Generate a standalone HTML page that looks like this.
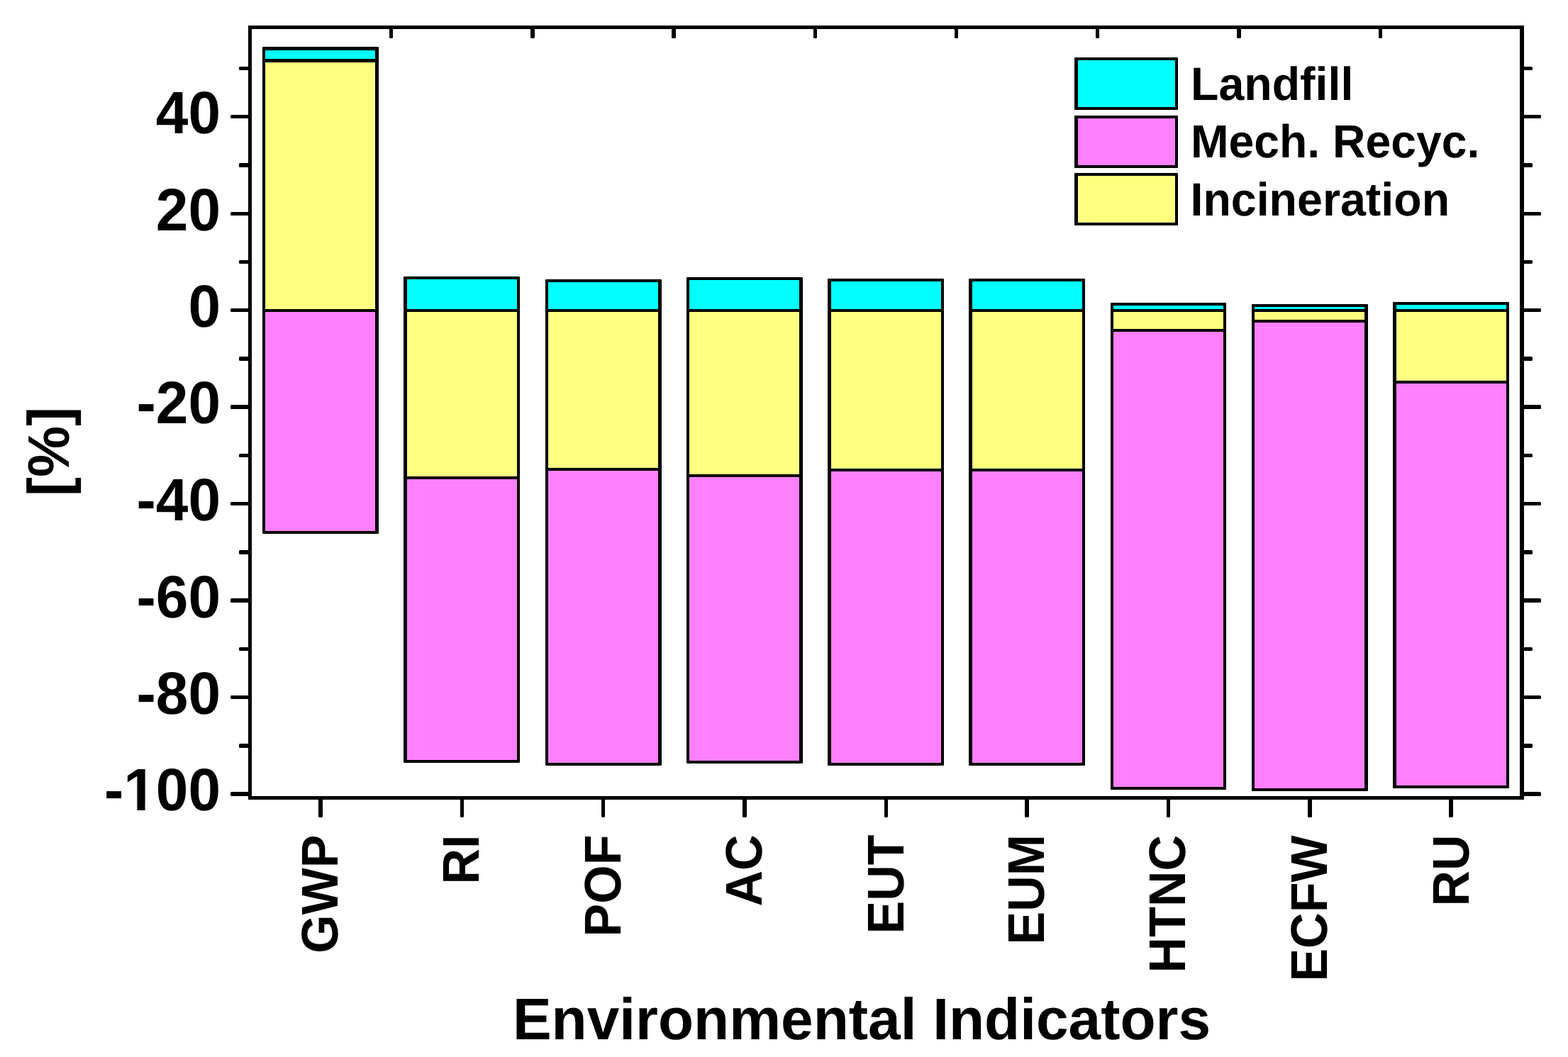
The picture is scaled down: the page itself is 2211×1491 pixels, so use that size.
<!DOCTYPE html>
<html lang="en">
<head>
<meta charset="utf-8">
<title>Environmental Indicators</title>
<style>
html,body{margin:0;padding:0;background:#fff;}
body{width:2211px;height:1491px;overflow:hidden;}
svg{display:block;}
text{text-rendering:geometricPrecision;}
</style>
</head>
<body>
<svg width="2211" height="1491" viewBox="0 0 2211 1491">
<rect x="0" y="0" width="2211" height="1491" fill="#ffffff"/>
<g id="bars">
<rect x="370" y="66" width="164" height="687" fill="#000" rx="1.2"/>
<rect x="374" y="71" width="155" height="12" fill="#00ffff"/>
<rect x="374" y="88" width="155" height="348" fill="#ffff80"/>
<rect x="374" y="440" width="155" height="309" fill="#ff80ff"/>
<rect x="569" y="390" width="164" height="686" fill="#000" rx="1.2"/>
<rect x="574" y="394" width="155" height="42" fill="#00ffff"/>
<rect x="574" y="440" width="155" height="232" fill="#ffff80"/>
<rect x="574" y="676" width="155" height="396" fill="#ff80ff"/>
<rect x="769" y="394" width="164" height="686" fill="#000" rx="1.2"/>
<rect x="773" y="398" width="155" height="38" fill="#00ffff"/>
<rect x="773" y="440" width="155" height="220" fill="#ffff80"/>
<rect x="773" y="664" width="155" height="412" fill="#ff80ff"/>
<rect x="968" y="391" width="164" height="686" fill="#000" rx="1.2"/>
<rect x="972" y="395" width="155" height="41" fill="#00ffff"/>
<rect x="972" y="440" width="155" height="229" fill="#ffff80"/>
<rect x="972" y="673" width="155" height="400" fill="#ff80ff"/>
<rect x="1167" y="393" width="164" height="687" fill="#000" rx="1.2"/>
<rect x="1172" y="397" width="155" height="39" fill="#00ffff"/>
<rect x="1172" y="440" width="155" height="221" fill="#ffff80"/>
<rect x="1172" y="665" width="155" height="411" fill="#ff80ff"/>
<rect x="1366" y="393" width="164" height="687" fill="#000" rx="1.2"/>
<rect x="1371" y="397" width="155" height="39" fill="#00ffff"/>
<rect x="1371" y="440" width="155" height="221" fill="#ffff80"/>
<rect x="1371" y="665" width="155" height="411" fill="#ff80ff"/>
<rect x="1566" y="427" width="163" height="687" fill="#000" rx="1.2"/>
<rect x="1570" y="431" width="155" height="5" fill="#00ffff"/>
<rect x="1570" y="440" width="155" height="24" fill="#ffff80"/>
<rect x="1570" y="468" width="155" height="642" fill="#ff80ff"/>
<rect x="1765" y="429" width="164" height="687" fill="#000" rx="1.2"/>
<rect x="1769" y="433" width="155" height="3" fill="#00ffff"/>
<rect x="1769" y="440" width="155" height="11" fill="#ffff80"/>
<rect x="1769" y="455" width="155" height="657" fill="#ff80ff"/>
<rect x="1964" y="426" width="164" height="686" fill="#000" rx="1.2"/>
<rect x="1969" y="430" width="155" height="6" fill="#00ffff"/>
<rect x="1969" y="440" width="155" height="97" fill="#ffff80"/>
<rect x="1969" y="541" width="155" height="567" fill="#ff80ff"/>
</g>
<g id="frame">
<rect x="350" y="36" width="5" height="1092" fill="#000"/>
<rect x="350" y="36" width="1799" height="5" fill="#000"/>
<rect x="2143" y="36" width="6" height="1092" fill="#000"/>
<rect x="350" y="1123" width="1799" height="5" fill="#000"/>
</g>
<g id="ticks">
<rect x="325" y="162" width="28" height="5" fill="#000" rx="1.6"/>
<rect x="2146" y="162" width="27" height="5" fill="#000" rx="1.6"/>
<rect x="325" y="299" width="28" height="5" fill="#000" rx="1.6"/>
<rect x="2146" y="299" width="27" height="5" fill="#000" rx="1.6"/>
<rect x="325" y="435" width="28" height="5" fill="#000" rx="1.6"/>
<rect x="2146" y="435" width="27" height="5" fill="#000" rx="1.6"/>
<rect x="325" y="571" width="28" height="6" fill="#000" rx="1.6"/>
<rect x="2146" y="571" width="27" height="6" fill="#000" rx="1.6"/>
<rect x="325" y="708" width="28" height="5" fill="#000" rx="1.6"/>
<rect x="2146" y="708" width="27" height="5" fill="#000" rx="1.6"/>
<rect x="325" y="844" width="28" height="6" fill="#000" rx="1.6"/>
<rect x="2146" y="844" width="27" height="6" fill="#000" rx="1.6"/>
<rect x="325" y="981" width="28" height="5" fill="#000" rx="1.6"/>
<rect x="2146" y="981" width="27" height="5" fill="#000" rx="1.6"/>
<rect x="325" y="1117" width="28" height="6" fill="#000" rx="1.6"/>
<rect x="2146" y="1117" width="27" height="6" fill="#000" rx="1.6"/>
<rect x="337" y="94" width="16" height="5" fill="#000" rx="1.6"/>
<rect x="2146" y="94" width="15" height="5" fill="#000" rx="1.6"/>
<rect x="337" y="230" width="16" height="6" fill="#000" rx="1.6"/>
<rect x="2146" y="230" width="15" height="6" fill="#000" rx="1.6"/>
<rect x="337" y="367" width="16" height="5" fill="#000" rx="1.6"/>
<rect x="2146" y="367" width="15" height="5" fill="#000" rx="1.6"/>
<rect x="337" y="503" width="16" height="6" fill="#000" rx="1.6"/>
<rect x="2146" y="503" width="15" height="6" fill="#000" rx="1.6"/>
<rect x="337" y="640" width="16" height="5" fill="#000" rx="1.6"/>
<rect x="2146" y="640" width="15" height="5" fill="#000" rx="1.6"/>
<rect x="337" y="776" width="16" height="6" fill="#000" rx="1.6"/>
<rect x="2146" y="776" width="15" height="6" fill="#000" rx="1.6"/>
<rect x="337" y="913" width="16" height="5" fill="#000" rx="1.6"/>
<rect x="2146" y="913" width="15" height="5" fill="#000" rx="1.6"/>
<rect x="337" y="1049" width="16" height="6" fill="#000" rx="1.6"/>
<rect x="2146" y="1049" width="15" height="6" fill="#000" rx="1.6"/>
<rect x="449" y="1125" width="6" height="28" fill="#000" rx="1.6"/>
<rect x="649" y="1125" width="5" height="28" fill="#000" rx="1.6"/>
<rect x="848" y="1125" width="5" height="28" fill="#000" rx="1.6"/>
<rect x="1047" y="1125" width="6" height="28" fill="#000" rx="1.6"/>
<rect x="1247" y="1125" width="5" height="28" fill="#000" rx="1.6"/>
<rect x="1445" y="1125" width="6" height="28" fill="#000" rx="1.6"/>
<rect x="1645" y="1125" width="5" height="28" fill="#000" rx="1.6"/>
<rect x="1844" y="1125" width="6" height="28" fill="#000" rx="1.6"/>
<rect x="2043" y="1125" width="6" height="28" fill="#000" rx="1.6"/>
<rect x="549" y="38" width="5" height="16" fill="#000" rx="1.6"/>
<rect x="748" y="38" width="6" height="16" fill="#000" rx="1.6"/>
<rect x="947" y="38" width="6" height="16" fill="#000" rx="1.6"/>
<rect x="1147" y="38" width="5" height="16" fill="#000" rx="1.6"/>
<rect x="1346" y="38" width="5" height="16" fill="#000" rx="1.6"/>
<rect x="1545" y="38" width="5" height="16" fill="#000" rx="1.6"/>
<rect x="1744" y="38" width="6" height="16" fill="#000" rx="1.6"/>
<rect x="1944" y="38" width="5" height="16" fill="#000" rx="1.6"/>
</g>
<g id="legend">
<rect x="1515" y="81" width="146" height="74" fill="#000" rx="1"/>
<rect x="1520" y="85" width="137" height="66" fill="#00ffff"/>
<rect x="1515" y="163" width="146" height="74" fill="#000" rx="1"/>
<rect x="1520" y="167" width="137" height="66" fill="#ff80ff"/>
<rect x="1515" y="244" width="146" height="74" fill="#000" rx="1"/>
<rect x="1520" y="248" width="137" height="66" fill="#ffff80"/>
</g>
<g id="labels" font-family="'Liberation Sans', Arial, Helvetica, sans-serif" font-weight="bold" fill="#000">
<text transform="translate(1679 141) scale(1 1.02)" font-size="64.5">Landfill</text>
<text transform="translate(1679 222) scale(1 1.02)" font-size="64.3">Mech. Recyc.</text>
<text transform="translate(1678.5 304) scale(1 1.02)" font-size="64.5">Incineration</text>
<text transform="translate(311 188) scale(1 1.03)" font-size="82" text-anchor="end">40</text>
<text transform="translate(311 325) scale(1 1.03)" font-size="82" text-anchor="end">20</text>
<text transform="translate(311 461) scale(1 1.03)" font-size="82" text-anchor="end">0</text>
<text transform="translate(311 597) scale(1 1.03)" font-size="82" text-anchor="end">-20</text>
<text transform="translate(311 734) scale(1 1.03)" font-size="82" text-anchor="end">-40</text>
<text transform="translate(311 870.5) scale(1 1.03)" font-size="82" text-anchor="end">-60</text>
<text transform="translate(311 1007) scale(1 1.03)" font-size="82" text-anchor="end">-80</text>
<text transform="translate(311 1143) scale(1 1.03)" font-size="82" text-anchor="end">-100</text>
<rect x="177" y="1133.9" width="16.35" height="10.6" fill="#fff"/>
<rect x="204.55" y="1133.9" width="14.5" height="10.6" fill="#fff"/>
<text transform="translate(476 1177.5) rotate(-90) scale(1 1.04)" font-size="70" text-anchor="end">GWP</text>
<text transform="translate(675 1177.5) rotate(-90) scale(1 1.04)" font-size="70" text-anchor="end">RI</text>
<text transform="translate(875 1177.5) rotate(-90) scale(1 1.04)" font-size="70" text-anchor="end">POF</text>
<text transform="translate(1074 1177.5) rotate(-90) scale(1 1.04)" font-size="70" text-anchor="end">AC</text>
<text transform="translate(1273.5 1177.5) rotate(-90) scale(1 1.04)" font-size="70" text-anchor="end">EUT</text>
<text transform="translate(1472 1177) rotate(-90) scale(1 1.04)" font-size="70" text-anchor="end">EUM</text>
<text transform="translate(1671 1178) rotate(-90) scale(1 1.04)" font-size="70" text-anchor="end">HTNC</text>
<text transform="translate(1871 1178.5) rotate(-90) scale(1 1.04)" font-size="70" text-anchor="end">ECFW</text>
<text transform="translate(2071 1177.5) rotate(-90) scale(1 1.04)" font-size="70" text-anchor="end">RU</text>
<text transform="translate(97 637) rotate(-90) scale(1 1.02)" font-size="81" text-anchor="middle">[%]</text>
<text transform="translate(1215 1465.7) scale(1 1.01)" font-size="82" text-anchor="middle">Environmental Indicators</text>
</g>
</svg>
</body>
</html>
